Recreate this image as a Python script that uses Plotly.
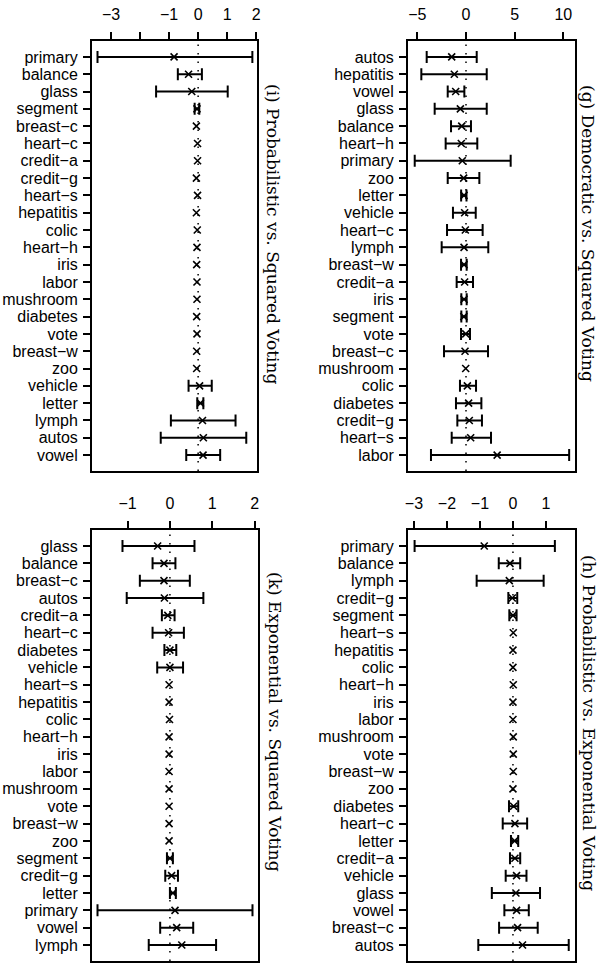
import plotly.graph_objects as go

W, H = 611, 965

# ---------------- Panel (i): Probabilistic vs. Squared Voting ----------------
cats_i = ["primary", "balance", "glass", "segment", "breast\u2212c", "heart\u2212c", "credit\u2212a",
          "credit\u2212g", "heart\u2212s", "hepatitis", "colic", "heart\u2212h", "iris", "labor",
          "mushroom", "diabetes", "vote", "breast\u2212w", "zoo", "vehicle", "letter", "lymph",
          "autos", "vowel"]
mid_i = [-0.83, -0.33, -0.22, -0.04, -0.06, -0.02, -0.02, -0.06, -0.02, -0.06, -0.03, -0.04,
         -0.05, -0.04, -0.04, -0.05, -0.04, -0.05, -0.05, 0.05, 0.08, 0.15, 0.18, 0.17]
lo_i = [-3.47, -0.70, -1.45, -0.12, None, None, None, None, None, None, None, None,
        None, None, None, None, None, None, None, -0.33, -0.03, -0.94, -1.29, -0.41]
hi_i = [1.87, 0.13, 1.02, 0.04, None, None, None, None, None, None, None, None,
        None, None, None, None, None, None, None, 0.47, 0.18, 1.29, 1.66, 0.76]
ticks_i = [-3, -2, -1, 0, 1, 2]
ticktext_i = ["\u22123", "", "\u22121", "0", "1", "2"]

# ---------------- Panel (g): Democratic vs. Squared Voting ----------------
cats_g = ["autos", "hepatitis", "vowel", "glass", "balance", "heart\u2212h", "primary", "zoo",
          "letter", "vehicle", "heart\u2212c", "lymph", "breast\u2212w", "credit\u2212a", "iris",
          "segment", "vote", "breast\u2212c", "mushroom", "colic", "diabetes", "credit\u2212g",
          "heart\u2212s", "labor"]
mid_g = [-1.47, -1.2, -1.06, -0.58, -0.44, -0.48, -0.38, -0.24, -0.2, -0.14, -0.07, -0.2,
         -0.2, -0.14, -0.2, -0.22, -0.03, -0.1, -0.03, 0.14, 0.27, 0.34, 0.48, 3.2]
lo_g = [-4.04, -4.59, -1.88, -3.22, -1.54, -2.09, -5.27, -1.88, -0.5, -1.34, -1.95, -2.5,
        -0.51, -0.96, -0.48, -0.48, -0.51, -2.26, None, -0.62, -1.03, -0.89, -1.47, -3.6]
hi_g = [1.1, 2.13, -0.17, 2.13, 0.51, 1.16, 4.59, 1.37, 0.05, 1.0, 1.71, 2.29,
        0.07, 0.72, 0.07, 0.07, 0.41, 2.26, None, 1.03, 1.58, 1.64, 2.57, 10.6]
ticks_g = [-5, 0, 5, 10]
ticktext_g = ["\u22125", "0", "5", "10"]

# ---------------- Panel (k): Exponential vs. Squared Voting ----------------
cats_k = ["glass", "balance", "breast\u2212c", "autos", "credit\u2212a", "heart\u2212c", "diabetes",
          "vehicle", "heart\u2212s", "hepatitis", "colic", "heart\u2212h", "iris", "labor",
          "mushroom", "vote", "breast\u2212w", "zoo", "segment", "credit\u2212g", "letter",
          "primary", "vowel", "lymph"]
mid_k = [-0.29, -0.14, -0.14, -0.13, -0.05, -0.03, 0.0, 0.0, -0.02, -0.02, -0.01, -0.02,
         -0.02, -0.02, -0.02, -0.02, -0.02, -0.02, 0.0, 0.04, 0.07, 0.12, 0.16, 0.28]
lo_k = [-1.12, -0.41, -0.71, -1.02, -0.19, -0.41, -0.13, -0.3, None, None, None, None,
        None, None, None, None, None, None, -0.07, -0.11, 0.0, -1.71, -0.23, -0.5]
hi_k = [0.58, 0.13, 0.47, 0.79, 0.11, 0.33, 0.15, 0.31, None, None, None, None,
        None, None, None, None, None, None, 0.07, 0.19, 0.14, 1.95, 0.55, 1.09]
ticks_k = [-1, 0, 1, 2]
ticktext_k = ["\u22121", "0", "1", "2"]

# ---------------- Panel (h): Probabilistic vs. Exponential Voting ----------------
cats_h = ["primary", "balance", "lymph", "credit\u2212g", "segment", "heart\u2212s", "hepatitis",
          "colic", "heart\u2212h", "iris", "labor", "mushroom", "vote", "breast\u2212w", "zoo",
          "diabetes", "heart\u2212c", "letter", "credit\u2212a", "vehicle", "glass", "vowel",
          "breast\u2212c", "autos"]
mid_h = [-0.87, -0.09, -0.11, -0.02, 0.0, 0.01, 0.0, 0.0, 0.01, 0.0, 0.0, 0.01,
         0.01, 0.01, 0.0, 0.02, 0.06, 0.05, 0.06, 0.11, 0.09, 0.11, 0.14, 0.29]
lo_h = [-2.98, -0.43, -1.1, -0.14, -0.11, None, None, None, None, None, None, None,
        None, None, None, -0.12, -0.31, -0.06, -0.09, -0.22, -0.64, -0.26, -0.42, -1.05]
hi_h = [1.27, 0.22, 0.93, 0.13, 0.11, None, None, None, None, None, None, None,
        None, None, None, 0.16, 0.43, 0.16, 0.22, 0.41, 0.82, 0.48, 0.75, 1.69]
ticks_h = [-3, -2, -1, 0, 1]
ticktext_h = ["\u22123", "\u22122", "\u22121", "0", "1"]

panels = [
    dict(cats=cats_i, mid=mid_i, lo=lo_i, hi=hi_i, xr=[-3.66, 2.03], tv=ticks_i, tt=ticktext_i,
         px=(92, 257), py=(41, 471), title="(i) Probabilistic vs. Squared Voting", tx=273, ty=234),
    dict(cats=cats_g, mid=mid_g, lo=lo_g, hi=hi_g, xr=[-5.96, 11.2], tv=ticks_g, tt=ticktext_g,
         px=(408, 575), py=(41, 471), title="(g) Democratic vs. Squared Voting", tx=588, ty=233),
    dict(cats=cats_k, mid=mid_k, lo=lo_k, hi=hi_k, xr=[-1.84, 2.08], tv=ticks_k, tt=ticktext_k,
         px=(92, 258), py=(530, 961), title="(k) Exponential vs. Squared Voting", tx=275, ty=722),
    dict(cats=cats_h, mid=mid_h, lo=lo_h, hi=hi_h, xr=[-3.18, 1.88], tv=ticks_h, tt=ticktext_h,
         px=(408, 575), py=(530, 961), title="(h) Probabilistic vs. Exponential Voting", tx=589, ty=723),
]

sans = "Liberation Sans, Arial, sans-serif"
serif = "DejaVu Serif, serif"
marker = dict(symbol="x-thin", size=7, color="black", line=dict(width=1.6, color="black"))

fig = go.Figure()
layout = {}
for k, p in enumerate(panels):
    sfx = "" if k == 0 else str(k + 1)
    xa, ya = "x" + sfx, "y" + sfx
    cats, mid, lo, hi = p["cats"], p["mid"], p["lo"], p["hi"]
    ci = [j for j in range(len(cats)) if lo[j] is not None]
    nc = [j for j in range(len(cats)) if lo[j] is None]
    fig.add_trace(go.Scatter(
        x=[mid[j] for j in ci], y=[cats[j] for j in ci], mode="markers", marker=marker,
        error_x=dict(type="data", symmetric=False,
                     array=[hi[j] - mid[j] for j in ci],
                     arrayminus=[mid[j] - lo[j] for j in ci],
                     color="black", thickness=2, width=6),
        xaxis=xa, yaxis=ya, showlegend=False, hoverinfo="skip"))
    if nc:
        fig.add_trace(go.Scatter(
            x=[mid[j] for j in nc], y=[cats[j] for j in nc], mode="markers", marker=marker,
            xaxis=xa, yaxis=ya, showlegend=False, hoverinfo="skip"))
    fig.add_shape(type="line", x0=0, x1=0, y0=0, y1=1, xref=xa, yref=ya + " domain",
                  line=dict(color="black", width=1.5, dash="1.5px,7px"), layer="below")
    n = len(cats)
    layout["xaxis" + sfx] = dict(
        domain=[p["px"][0] / W, p["px"][1] / W], range=p["xr"], side="top", anchor=ya,
        tickmode="array", tickvals=p["tv"], ticktext=p["tt"], ticks="outside", ticklen=7,
        tickwidth=1.5, tickcolor="black", showline=True, mirror=True, linewidth=2,
        linecolor="black", showgrid=False, zeroline=False, ticklabelstandoff=6,
        automargin=False, tickfont=dict(family=sans, size=16, color="black"))
    layout["yaxis" + sfx] = dict(
        domain=[1 - p["py"][1] / H, 1 - p["py"][0] / H], type="category",
        categoryorder="array", categoryarray=cats, range=[n - 1 + 0.92, -0.92], anchor=xa,
        tickmode="array", tickvals=cats, ticktext=cats,
        ticks="outside", ticklen=7, tickwidth=1.5, tickcolor="black", showline=True,
        mirror=True, linewidth=2, linecolor="black", showgrid=False, zeroline=False,
        ticklabelstandoff=2, automargin=False,
        tickfont=dict(family=sans, size=16, color="black"))
    fig.add_annotation(text=p["title"], x=p["tx"] / W, y=1 - p["ty"] / H, xref="paper",
                       yref="paper", textangle=90, showarrow=False,
                       font=dict(family=serif, size=17, color="black"),
                       xanchor="center", yanchor="middle")

fig.update_layout(width=W, height=H, margin=dict(l=0, r=0, t=0, b=0, autoexpand=False),
                  paper_bgcolor="white", plot_bgcolor="white", **layout)
fig.write_html("out.html", config={"displayModeBar": False},
               post_script="document.body.style.margin='0';")
